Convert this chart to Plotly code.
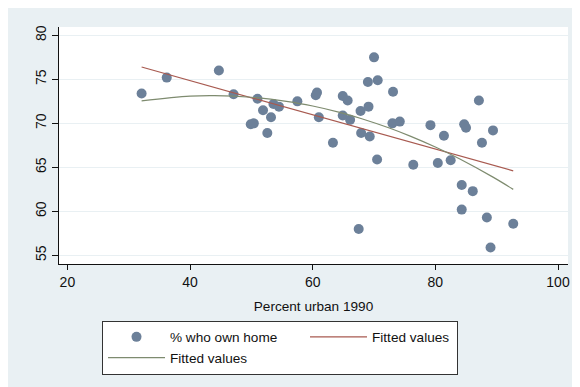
import plotly.graph_objects as go

# 城市化率 vs 自有住房比例
urban = [32.1, 36.2, 44.7, 47.1, 49.9, 50.4, 51.0, 51.9, 52.6, 53.2,
         53.6, 54.5, 57.5, 60.5, 60.7, 61.0, 63.3, 64.9, 65.7, 64.9,
         66.1, 67.5, 67.8, 69.1, 67.9, 69.3, 69.0, 70.6, 70.0, 70.5,
         73.1, 73.0, 74.2, 76.4, 79.2, 80.4, 81.4, 82.5, 84.7, 85.0,
         87.1, 87.6, 89.4, 84.3, 86.1, 84.3, 88.4, 92.7, 89.0]
ownhome = [73.4, 75.2, 76.0, 73.3, 69.9, 70.0, 72.8, 71.5, 68.9, 70.7,
           72.2, 71.9, 72.5, 73.2, 73.5, 70.7, 67.8, 73.1, 72.6, 70.9,
           70.4, 58.0, 71.4, 71.9, 68.9, 68.5, 74.7, 74.9, 77.5, 65.9,
           73.6, 70.0, 70.2, 65.3, 69.8, 65.5, 68.6, 65.8, 69.9, 69.5,
           72.6, 67.8, 69.2, 63.0, 62.3, 60.2, 59.3, 58.6, 55.9]

# 线性拟合线（两端读数）
lin_x = [32.1, 92.7]
lin_y = [76.4, 64.6]

# 二次拟合线（沿曲线读数）
quad_x = [32.1, 40, 44, 50, 56, 60, 64.4, 68, 72.5, 76, 80, 84, 89.4, 92.7]
quad_y = [72.55, 73.09, 73.15, 72.97, 72.48, 71.97, 71.25, 70.53, 69.47,
          68.52, 67.31, 65.95, 63.89, 62.5]

xticks = [20, 40, 60, 80, 100]
yticks = [55, 60, 65, 70, 75, 80]

bg = "#E9F0F3"
font = "Liberation Sans, Arial, sans-serif"

fig = go.Figure()
fig.add_trace(go.Scatter(
    x=urban, y=ownhome, mode="markers", name="% who own home",
    marker=dict(size=10, color="#6C8099", line=dict(width=0)),
    legendwidth=130,
))
fig.add_trace(go.Scatter(
    x=lin_x, y=lin_y, mode="lines", name="Fitted values",
    line=dict(color="#A85A50", width=1.2),
    legendwidth=80,
))
fig.add_trace(go.Scatter(
    x=quad_x, y=quad_y, mode="lines", name="Fitted values",
    line=dict(color="#7E8B6F", width=1.2, shape="spline"),
    legendwidth=130,
))

# 页面 body 自带 8px 边距，所以图本身缩小 8px
fig.update_layout(
    width=572, height=379,
    margin=dict(l=51, r=12, t=19, b=121),
    paper_bgcolor=bg, plot_bgcolor="white",
    font=dict(family=font, size=14, color="#111"),
    showlegend=True,
    legend=dict(
        orientation="h", x=0.0845, xanchor="left", y=-0.2385, yanchor="top",
        bgcolor="white", bordercolor="#333", borderwidth=1,
        font=dict(size=13.6), itemwidth=57, traceorder="normal",
    ),
)

fig.update_xaxes(
    range=[18.63, 101.63], tickvals=xticks, ticks="outside", ticklen=5,
    tickcolor="#111", showline=True, linecolor="#111", linewidth=1,
    showgrid=False, zeroline=False, automargin=False,
    title=dict(text="Percent urban 1990", font=dict(size=13.6), standoff=12),
)
fig.update_yaxes(
    range=[54.02, 80.95], tickvals=yticks, tickangle=-90, ticks="outside",
    ticklen=6, tickcolor="#111", showline=True, linecolor="#111", linewidth=1,
    showgrid=True, gridcolor=bg, gridwidth=1, zeroline=False, automargin=False,
)

fig.write_html("out.html")
